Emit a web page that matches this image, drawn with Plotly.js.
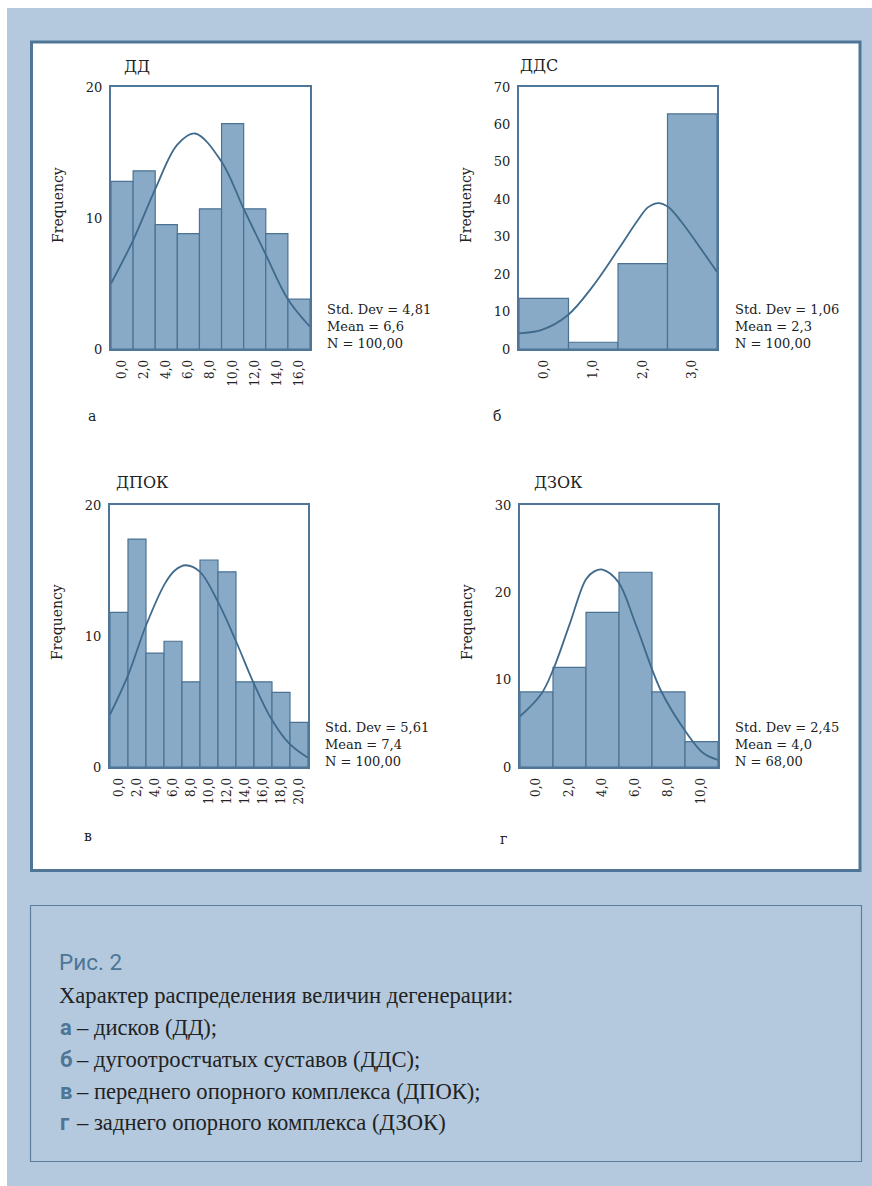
<!DOCTYPE html>
<html>
<head>
<meta charset="utf-8">
<script src="https://cdn.plot.ly/plotly-3.0.1.min.js"></script>
<style>
  html, body { margin: 0; padding: 0; background: #ffffff; }
  #chart { width: 872px; height: 1186px; }
</style>
</head>
<body>
<div id="chart"></div>
<script>
// ---- ДД: дисков ----
const ddBins = [0, 2, 4, 6, 8, 10, 12, 14, 16];
const ddFreq = [12.8, 13.6, 9.5, 8.8, 10.7, 17.2, 10.7, 8.8, 3.8];
const ddCurveX = [-1, 1, 3, 5, 6.6, 9, 11, 13, 15, 17];
const ddCurveY = [5.0, 8.3, 12.2, 15.6, 16.45, 14.3, 10.7, 7.2, 3.8, 1.7];
const ddTicks = ['0,0', '2,0', '4,0', '6,0', '8,0', '10,0', '12,0', '14,0', '16,0'];
const ddStats = ['Std. Dev = 4,81', 'Mean = 6,6', 'N = 100,00'];

// ---- ДДС: дугоотростчатых суставов ----
const ddsBins = [0, 1, 2, 3];
const ddsFreq = [13.5, 1.8, 22.8, 62.8];
const ddsCurveX = [-0.5, -0.04, 0.49, 0.97, 1.5, 1.91, 2.11, 2.32, 2.51, 2.78, 3.12, 3.5];
const ddsCurveY = [4.2, 5.1, 9.1, 16.4, 26.5, 34.6, 37.9, 39.0, 38.0, 34.0, 27.8, 20.6];
const ddsTicks = ['0,0', '1,0', '2,0', '3,0'];
const ddsStats = ['Std. Dev = 1,06', 'Mean = 2,3', 'N = 100,00'];

// ---- ДПОК: переднего опорного комплекса ----
const dpokBins = [0, 2, 4, 6, 8, 10, 12, 14, 16, 18, 20];
const dpokFreq = [11.8, 17.4, 8.7, 9.6, 6.5, 15.8, 14.9, 6.5, 6.5, 5.7, 3.4];
const dpokCurveX = [-1, 1, 3, 5.1, 6.2, 7.4, 9, 11, 13, 14.9, 16.9, 18.9, 21];
const dpokCurveY = [4.0, 7.0, 10.8, 14.0, 15.0, 15.4, 14.9, 12.6, 9.6, 6.5, 3.7, 1.8, 0.7];
const dpokTicks = ['0,0', '2,0', '4,0', '6,0', '8,0', '10,0', '12,0', '14,0', '16,0', '18,0', '20,0'];
const dpokStats = ['Std. Dev = 5,61', 'Mean = 7,4', 'N = 100,00'];

// ---- ДЗОК: заднего опорного комплекса ----
const dzokBins = [0, 2, 4, 6, 8, 10];
const dzokFreq = [8.6, 11.4, 17.7, 22.3, 8.6, 2.9];
const dzokCurveX = [-1, 0.3, 1, 2, 3, 3.5, 4, 4.95, 6, 7.55, 9.1, 10.1, 11];
const dzokCurveY = [5.8, 8.4, 11.1, 16.3, 21.5, 22.4, 22.6, 21.2, 16.4, 8.7, 3.9, 1.6, 0.8];
const dzokTicks = ['0,0', '2,0', '4,0', '6,0', '8,0', '10,0'];
const dzokStats = ['Std. Dev = 2,45', 'Mean = 4,0', 'N = 68,00'];

const captionHead = 'Рис. 2';
const captionLead = 'Характер распределения величин дегенерации:';
const captionKeys = ['а', 'б', 'в', 'г'];
const captionItems = [
  '– дисков (ДД);',
  '– дугоотростчатых суставов (ДДС);',
  '– переднего опорного комплекса (ДПОК);',
  '– заднего опорного комплекса (ДЗОК)'
];

// ---- styling ----
const W = 872, H = 1186;
const BG = '#b4c9de';
const BAR = '#88aac7';
const EDGE = '#4b7293';
const CURVE = '#3f6a8b';
const FRAME = '#4f7697';
const SERIF = 'DejaVu Serif, serif';
const INK = '#222222';

const px = v => v / W;
const py = v => 1 - v / H;

// panel geometry in page pixels: plot box, ranges, label anchors
const panels = [
  { name: 'ДД', bins: ddBins, freq: ddFreq, cx: ddCurveX, cy: ddCurveY, ticks: ddTicks, stats: ddStats,
    bw: 2, xr: [-1, 17], yr: [0, 20], box: [111, 87, 310, 349], title: [122, 66],
    freqLab: [58, 205], statPos: [325, 308], letter: 'а', letterPos: [92, 416] },
  { name: 'ДДС', bins: ddsBins, freq: ddsFreq, cx: ddsCurveX, cy: ddsCurveY, ticks: ddsTicks, stats: ddsStats,
    bw: 1, xr: [-0.5, 3.5], yr: [0, 70], box: [519, 87, 717, 349], title: [518, 65],
    freqLab: [466, 205], statPos: [733, 308], letter: 'б', letterPos: [497, 416] },
  { name: 'ДПОК', bins: dpokBins, freq: dpokFreq, cx: dpokCurveX, cy: dpokCurveY, ticks: dpokTicks, stats: dpokStats,
    bw: 2, xr: [-1, 21], yr: [0, 20], box: [110, 505, 308, 767], title: [114, 482],
    freqLab: [57, 622], statPos: [323, 726], letter: 'в', letterPos: [88, 836] },
  { name: 'ДЗОК', bins: dzokBins, freq: dzokFreq, cx: dzokCurveX, cy: dzokCurveY, ticks: dzokTicks, stats: dzokStats,
    bw: 2, xr: [-1, 11], yr: [0, 30], box: [520, 505, 718, 767], title: [532, 482],
    freqLab: [467, 622], statPos: [733, 726], letter: 'г', letterPos: [503, 839] }
];

const traces = [];
const layout = {
  width: W, height: H,
  margin: { l: 0, r: 0, t: 0, b: 0 },
  paper_bgcolor: '#ffffff',
  plot_bgcolor: 'rgba(0,0,0,0)',
  showlegend: false,
  bargap: 0,
  font: { family: SERIF, color: INK },
  shapes: [
    // page background
    { type: 'rect', xref: 'paper', yref: 'paper', x0: px(7), x1: 1, y0: 0, y1: py(8),
      fillcolor: BG, line: { width: 0 }, layer: 'below' },
    // white figure panel
    { type: 'rect', xref: 'paper', yref: 'paper', x0: px(31.5), x1: px(860), y0: py(870.5), y1: py(42),
      fillcolor: '#ffffff', line: { color: FRAME, width: 3 }, layer: 'below' },
    // caption box
    { type: 'rect', xref: 'paper', yref: 'paper', x0: px(30.5), x1: px(861.5), y0: py(1161.5), y1: py(905.5),
      fillcolor: BG, line: { color: '#5d7f9c', width: 1.2 }, layer: 'below' }
  ],
  annotations: []
};

panels.forEach((p, i) => {
  const n = i + 1;
  const xa = n === 1 ? 'x' : 'x' + n;
  const ya = n === 1 ? 'y' : 'y' + n;
  const xk = n === 1 ? 'xaxis' : 'xaxis' + n;
  const yk = n === 1 ? 'yaxis' : 'yaxis' + n;

  traces.push({
    type: 'bar', x: p.bins, y: p.freq, width: p.bw, xaxis: xa, yaxis: ya,
    marker: { color: BAR, line: { color: EDGE, width: 1.2 } },
    hoverinfo: 'x+y'
  });
  traces.push({
    type: 'scatter', mode: 'lines', x: p.cx, y: p.cy, xaxis: xa, yaxis: ya,
    line: { color: CURVE, width: 1.8, shape: 'spline', smoothing: 1 },
    hoverinfo: 'skip'
  });

  const [x0, y0, x1, y1] = p.box;
  layout[xk] = {
    domain: [px(x0), px(x1)], anchor: ya, range: p.xr,
    showgrid: false, zeroline: false, showline: true, mirror: true,
    linecolor: FRAME, linewidth: 2, ticks: '',
    tickmode: 'array', tickvals: p.bins, ticktext: p.ticks, tickangle: -90,
    tickfont: { family: SERIF, size: 12, color: INK }, ticklabelstandoff: 4,
    fixedrange: true
  };
  layout[yk] = {
    domain: [py(y1), py(y0)], anchor: xa, range: p.yr, dtick: 10,
    showgrid: false, zeroline: false, showline: true, mirror: true,
    linecolor: FRAME, linewidth: 2, ticks: '',
    tickfont: { family: SERIF, size: 13, color: INK }, ticklabelstandoff: 4,
    fixedrange: true
  };

  layout.annotations.push(
    { xref: 'paper', yref: 'paper', x: px(p.title[0]), y: py(p.title[1]), xanchor: 'left', yanchor: 'middle',
      text: p.name, showarrow: false, font: { family: SERIF, size: 16, color: INK } },
    { xref: 'paper', yref: 'paper', x: px(p.freqLab[0]), y: py(p.freqLab[1]), xanchor: 'center', yanchor: 'middle',
      text: 'Frequency', textangle: -90, showarrow: false, font: { family: SERIF, size: 14, color: INK } },
    { xref: 'paper', yref: 'paper', x: px(p.statPos[0]), y: py(p.statPos[1] - 8), xanchor: 'left', yanchor: 'top',
      align: 'left', text: p.stats.join('<br>'), showarrow: false,
      font: { family: SERIF, size: 13, color: INK } },
    { xref: 'paper', yref: 'paper', x: px(p.letterPos[0]), y: py(p.letterPos[1]), xanchor: 'center', yanchor: 'middle',
      text: p.letter, showarrow: false, font: { family: SERIF, size: 14, color: INK } }
  );
});

// caption
const NARROW = 'Liberation Sans Narrow, Roboto, sans-serif';
const KEY = '#4d7595';
const CAP = 'Liberation Serif, serif';
layout.annotations.push(
  { xref: 'paper', yref: 'paper', x: px(57), y: py(962), xanchor: 'left', yanchor: 'middle',
    text: captionHead, showarrow: false, font: { family: NARROW, size: 22.5, color: KEY } },
  { xref: 'paper', yref: 'paper', x: px(57), y: py(995), xanchor: 'left', yanchor: 'middle',
    text: captionLead, showarrow: false, font: { family: CAP, size: 22.6, color: INK } }
);
const rowY = [1027, 1059, 1091, 1122];
captionKeys.forEach((k, i) => {
  layout.annotations.push(
    { xref: 'paper', yref: 'paper', x: px(58), y: py(rowY[i]), xanchor: 'left', yanchor: 'middle',
      text: '<b>' + k + '</b>', showarrow: false, font: { family: NARROW, size: 22, color: KEY } },
    { xref: 'paper', yref: 'paper', x: px(74), y: py(rowY[i]), xanchor: 'left', yanchor: 'middle',
      text: captionItems[i], showarrow: false, font: { family: CAP, size: 22.6, color: INK } }
  );
});

Plotly.newPlot('chart', traces, layout, { staticPlot: true, displayModeBar: false });
</script>
</body>
</html>
